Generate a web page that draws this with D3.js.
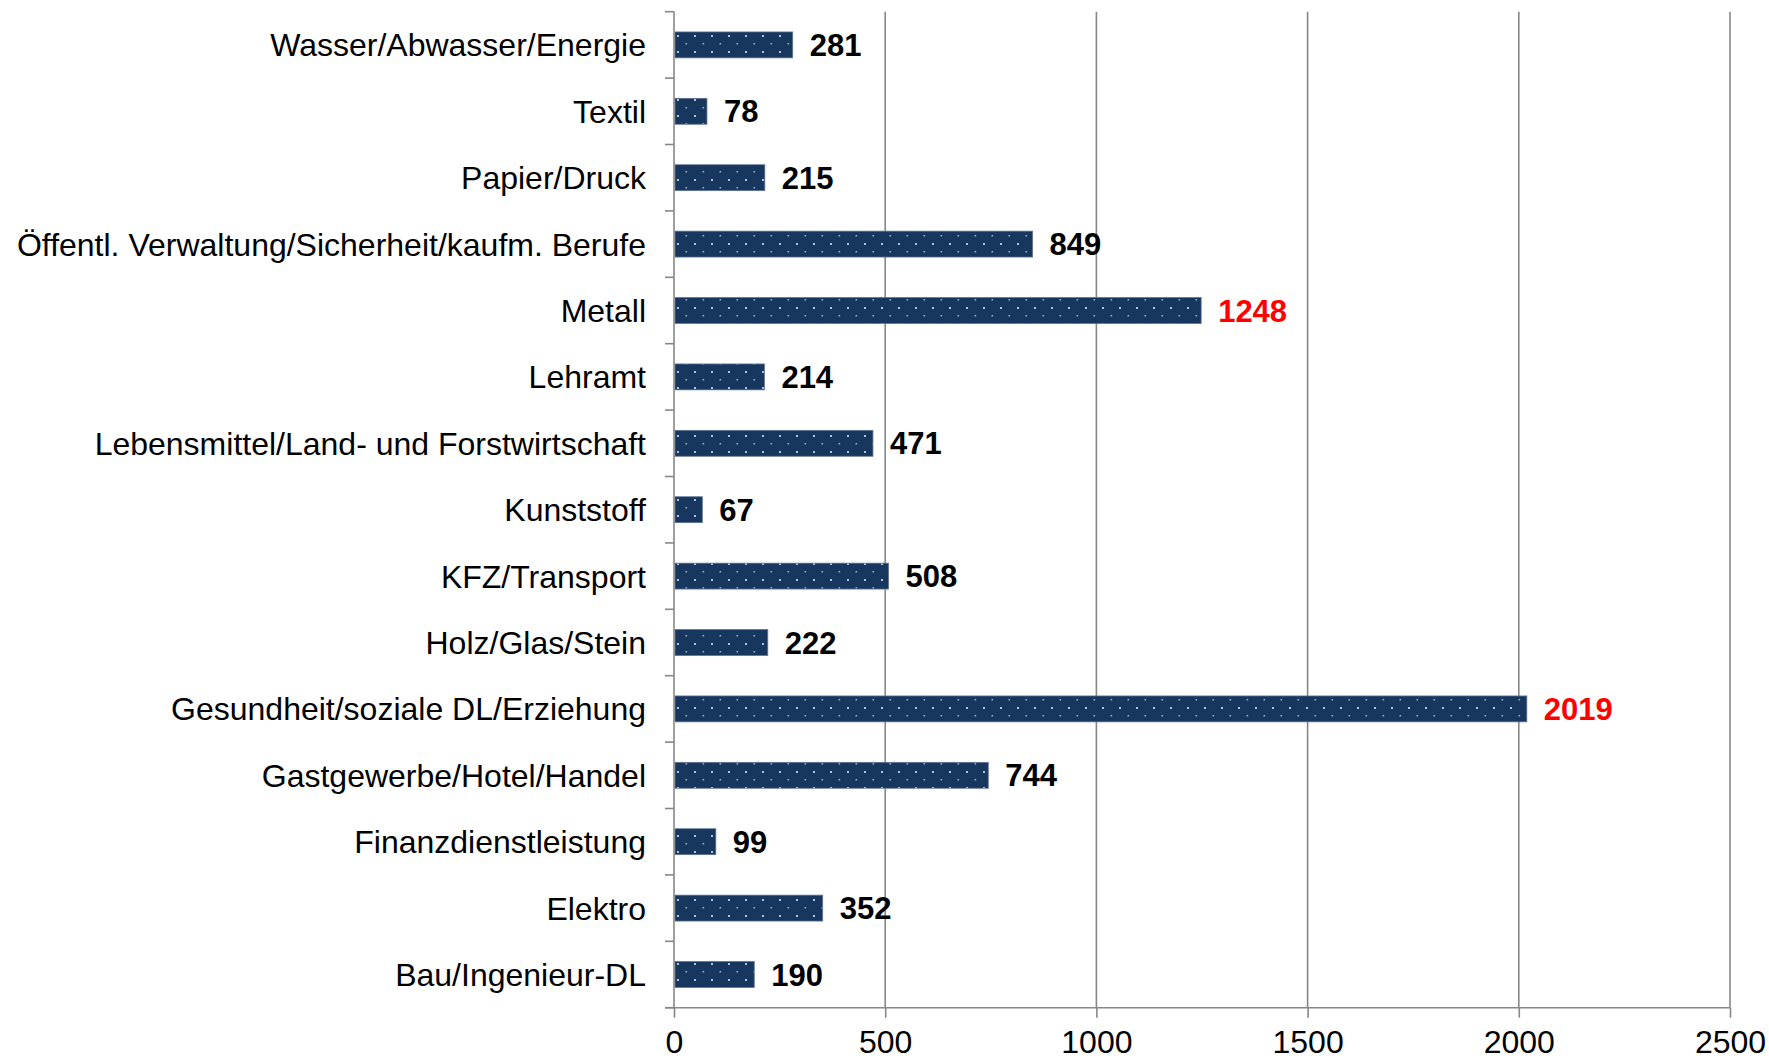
<!DOCTYPE html>
<html>
<head>
<meta charset="utf-8">
<script src="https://cdn.jsdelivr.net/npm/d3@7"></script>
<style>
  html, body { margin: 0; padding: 0; background: #fff; }
  svg { display: block; font-family: "Liberation Sans", Arial, sans-serif; }
</style>
</head>
<body>
<svg id="chart" width="1769" height="1061"></svg>
<script>
const categories = [
  "Wasser/Abwasser/Energie",
  "Textil",
  "Papier/Druck",
  "Öffentl. Verwaltung/Sicherheit/kaufm. Berufe",
  "Metall",
  "Lehramt",
  "Lebensmittel/Land- und Forstwirtschaft",
  "Kunststoff",
  "KFZ/Transport",
  "Holz/Glas/Stein",
  "Gesundheit/soziale DL/Erziehung",
  "Gastgewerbe/Hotel/Handel",
  "Finanzdienstleistung",
  "Elektro",
  "Bau/Ingenieur-DL"
];
const values = [281, 78, 215, 849, 1248, 214, 471, 67, 508, 222, 2019, 744, 99, 352, 190];
const highlighted = ["Metall", "Gesundheit/soziale DL/Erziehung"];
const xTicks = [0, 500, 1000, 1500, 2000, 2500];

(function () {
const data = categories.map((c, i) => ({ cat: c, val: values[i] }));

const svg = d3.select("#chart");
const pL = 674, pR = 1730, pT = 11.7, pB = 1007.7;

const x = d3.scaleLinear().domain([0, 2500]).range([pL, pR]);
const y = d3.scaleBand().domain(categories).range([pT, pB])
  .paddingInner(0.61).paddingOuter(0.305);

// dotted pattern
const defs = svg.append("defs");
const pat = defs.append("pattern")
  .attr("id", "dots").attr("patternUnits", "userSpaceOnUse")
  .attr("width", 17).attr("height", 16).attr("x", pL + 3).attr("y", 3);
pat.append("rect").attr("width", 17).attr("height", 16).attr("fill", "#17375E");
pat.append("rect").attr("x", 0).attr("y", 0).attr("width", 2).attr("height", 2).attr("fill", "#b3c1d4");
pat.append("rect").attr("x", 8.5).attr("y", 8).attr("width", 1.6).attr("height", 1.6).attr("fill", "#95a7c0");

// gridlines
svg.append("g").selectAll("line").data(xTicks.filter(t => t > 0)).join("line")
  .attr("x1", d => x(d)).attr("x2", d => x(d))
  .attr("y1", pT).attr("y2", pB)
  .attr("stroke", "#878787").attr("stroke-width", 1.6);

// bars
svg.append("g").selectAll("rect").data(data).join("rect")
  .attr("x", x(0) + 1)
  .attr("y", d => y(d.cat))
  .attr("width", d => x(d.val) - x(0) - 1)
  .attr("height", y.bandwidth())
  .attr("fill", "url(#dots)")
  .attr("stroke", "#5d7392").attr("stroke-width", 0.8);

// left axis line and ticks at band boundaries
svg.append("line").attr("x1", pL).attr("x2", pL).attr("y1", pT).attr("y2", pB)
  .attr("stroke", "#878787").attr("stroke-width", 1.6);
const boundaries = d3.range(categories.length + 1).map(i => pT + i * y.step());
svg.append("g").selectAll("line").data(boundaries).join("line")
  .attr("x1", pL - 9).attr("x2", pL)
  .attr("y1", d => d).attr("y2", d => d)
  .attr("stroke", "#878787").attr("stroke-width", 1.6);

// bottom axis
const xAxis = d3.axisBottom(x).tickValues(xTicks).tickFormat(d3.format("d"))
  .tickSizeInner(10).tickSizeOuter(0).tickPadding(13);
const gx = svg.append("g").attr("transform", `translate(0,${pB})`).call(xAxis);
gx.select(".domain").remove();
gx.append("line").attr("x1", pL - 9).attr("x2", pR).attr("y1", 0).attr("y2", 0)
  .attr("stroke", "#878787").attr("stroke-width", 1.6);
gx.selectAll(".tick line").attr("stroke", "#878787").attr("stroke-width", 1.6);
gx.selectAll(".tick text")
  .attr("font-size", 32).attr("fill", "#000")
  .attr("font-family", "'Liberation Sans', Arial, sans-serif");

// category labels
svg.append("g").selectAll("text").data(categories).join("text")
  .attr("x", 646)
  .attr("y", d => y(d) + y.bandwidth() / 2)
  .attr("dy", "0.36em")
  .attr("text-anchor", "end")
  .attr("font-size", 32)
  .attr("fill", "#000")
  .text(d => d);

// value labels
svg.append("g").selectAll("text").data(data).join("text")
  .attr("x", d => x(d.val) + 17)
  .attr("y", d => y(d.cat) + y.bandwidth() / 2)
  .attr("dy", "0.36em")
  .attr("font-size", 31)
  .attr("font-weight", "bold")
  .attr("fill", d => highlighted.includes(d.cat) ? "#FF0000" : "#000")
  .text(d => d.val);
})();
</script>
</body>
</html>
